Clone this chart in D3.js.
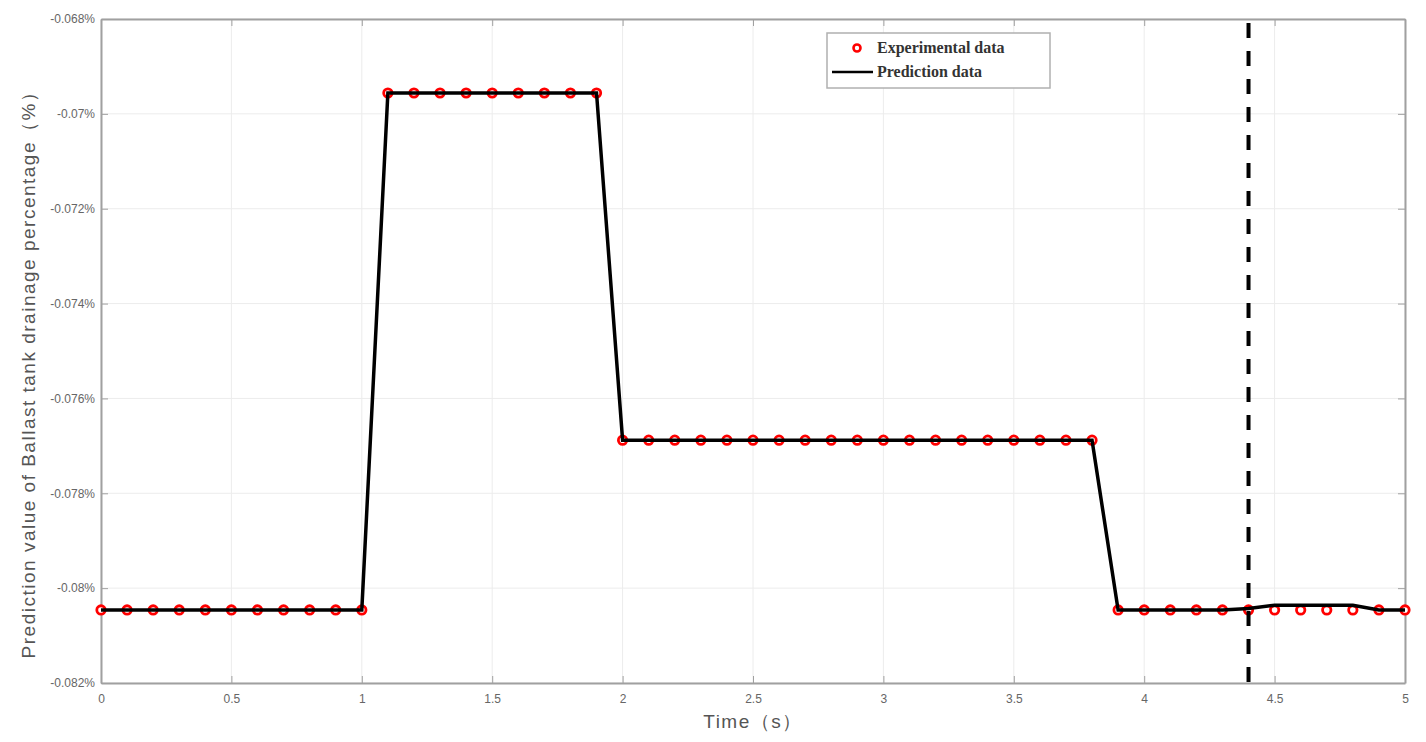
<!DOCTYPE html>
<html lang="en">
<head>
<meta charset="utf-8">
<title>Ballast tank drainage prediction</title>
<script src="https://cdn.jsdelivr.net/npm/d3@7/dist/d3.min.js"></script>
<style>
  body { margin: 0; background: #fff; }
  .tick text { font: 12px "Liberation Sans", Arial, sans-serif; fill: #666; }
  .axis path, .axis line { stroke: #a0a0a0; }
  .grid line { stroke: #ececec; }
</style>
</head>
<body>
<div id="chart"></div>
<script>
// time (s)
var times = d3.range(0, 51).map(function(i) { return +(i / 10).toFixed(1); });

// experimental data (%)
var experimental = [
  -0.08046, -0.08046, -0.08046, -0.08046, -0.08046, -0.08046, -0.08046, -0.08046, -0.08046, -0.08046, -0.08046,
  -0.06956, -0.06956, -0.06956, -0.06956, -0.06956, -0.06956, -0.06956, -0.06956, -0.06956,
  -0.07688, -0.07688, -0.07688, -0.07688, -0.07688, -0.07688, -0.07688, -0.07688, -0.07688, -0.07688,
  -0.07688, -0.07688, -0.07688, -0.07688, -0.07688, -0.07688, -0.07688, -0.07688, -0.07688,
  -0.08046, -0.08046, -0.08046, -0.08046, -0.08046, -0.08046, -0.08046, -0.08046, -0.08046, -0.08046, -0.08046, -0.08046
];

// prediction data (%)
var prediction = experimental.slice(0, 44).concat([
  -0.08043, -0.08036, -0.08036, -0.08036, -0.08036, -0.08046, -0.08046
]);

var splitTime = 4.4;
var xTicks = [0, 0.5, 1, 1.5, 2, 2.5, 3, 3.5, 4, 4.5, 5];
var yTicks = [-0.082, -0.08, -0.078, -0.076, -0.074, -0.072, -0.07, -0.068];

var width = 1426, height = 742;
var margin = {left: 101, right: 21, top: 19, bottom: 59};

var svg = d3.select("#chart").append("svg")
  .attr("width", width)
  .attr("height", height);

var x = d3.scaleLinear().domain([0, 5]).range([margin.left, width - margin.right]);
var y = d3.scaleLinear().domain([-0.082, -0.068]).range([height - margin.bottom, margin.top]);

var xFmt = function(d) { return String(d); };
var pctFmt = function(d) { return String(+d.toFixed(3)) + "%"; };

// grid
svg.append("g").attr("class", "grid")
  .selectAll("line.v").data(xTicks).enter().append("line")
  .attr("x1", function(d) { return x(d); }).attr("x2", function(d) { return x(d); })
  .attr("y1", y.range()[0]).attr("y2", y.range()[1]);
svg.select(".grid")
  .selectAll("line.h").data(yTicks).enter().append("line")
  .attr("x1", x.range()[0]).attr("x2", x.range()[1])
  .attr("y1", function(d) { return y(d); }).attr("y2", function(d) { return y(d); });

// axes (box with inner ticks)
svg.append("g").attr("class", "axis")
  .attr("transform", "translate(0," + y.range()[0] + ")")
  .call(d3.axisBottom(x).tickValues(xTicks).tickSizeInner(-7).tickSizeOuter(0).tickPadding(11).tickFormat(xFmt));
svg.append("g").attr("class", "axis")
  .attr("transform", "translate(0," + y.range()[1] + ")")
  .call(d3.axisTop(x).tickValues(xTicks).tickSizeInner(-7).tickSizeOuter(0).tickFormat(""));
svg.append("g").attr("class", "axis")
  .attr("transform", "translate(" + x.range()[0] + ",0)")
  .call(d3.axisLeft(y).tickValues(yTicks).tickSizeInner(-7).tickSizeOuter(0).tickPadding(6).tickFormat(pctFmt));
svg.append("g").attr("class", "axis")
  .attr("transform", "translate(" + x.range()[1] + ",0)")
  .call(d3.axisRight(y).tickValues(yTicks).tickSizeInner(-7).tickSizeOuter(0).tickFormat(""));
svg.selectAll(".axis path").attr("stroke-width", 2);

// axis titles
svg.append("text")
  .attr("x", (x.range()[0] + x.range()[1]) / 2)
  .attr("y", 728)
  .attr("text-anchor", "middle")
  .style("font", "19px 'Liberation Sans', Arial, sans-serif")
  .style("letter-spacing", "1.5px")
  .style("fill", "#555")
  .text("Time（s）");
svg.append("text")
  .attr("transform", "translate(35,370) rotate(-90)")
  .attr("text-anchor", "middle")
  .style("font", "19px 'Liberation Sans', Arial, sans-serif")
  .style("letter-spacing", "1.5px")
  .style("fill", "#555")
  .text("Prediction value of Ballast tank drainage percentage（%）");

// experimental markers
svg.append("g").selectAll("circle").data(times).enter().append("circle")
  .attr("cx", function(d) { return x(d); })
  .attr("cy", function(d, i) { return y(experimental[i]); })
  .attr("r", 4.2)
  .attr("fill", "#fff")
  .attr("stroke", "#ff0000")
  .attr("stroke-width", 2.8);

// prediction line
var line = d3.line()
  .x(function(d) { return x(d); })
  .y(function(d, i) { return y(prediction[i]); });
svg.append("path")
  .datum(times)
  .attr("d", line)
  .attr("fill", "none")
  .attr("stroke", "#000")
  .attr("stroke-width", 3.5)
  .attr("stroke-linejoin", "miter");

// split line
svg.append("line")
  .attr("x1", x(splitTime)).attr("x2", x(splitTime))
  .attr("y1", y.range()[1] + 4).attr("y2", y.range()[0])
  .attr("stroke", "#000")
  .attr("stroke-width", 4)
  .attr("stroke-dasharray", "15,13");

// legend
var lg = svg.append("g").attr("transform", "translate(827,33)");
lg.append("rect")
  .attr("width", 223).attr("height", 55)
  .attr("fill", "#fff").attr("stroke", "#b0b0b0").attr("stroke-width", 1.5);
lg.append("circle")
  .attr("cx", 30).attr("cy", 15).attr("r", 3.5)
  .attr("fill", "#fff").attr("stroke", "#ff0000").attr("stroke-width", 2.6);
lg.append("line")
  .attr("x1", 5).attr("x2", 46).attr("y1", 39).attr("y2", 39)
  .attr("stroke", "#000").attr("stroke-width", 2.5);
lg.selectAll("text.lbl").data(["Experimental data", "Prediction data"]).enter().append("text")
  .attr("x", 50)
  .attr("y", function(d, i) { return 20 + i * 24; })
  .style("font", "bold 16px 'Liberation Serif', 'Times New Roman', serif")
  .style("fill", "#333")
  .text(function(d) { return d; });
</script>
</body>
</html>
